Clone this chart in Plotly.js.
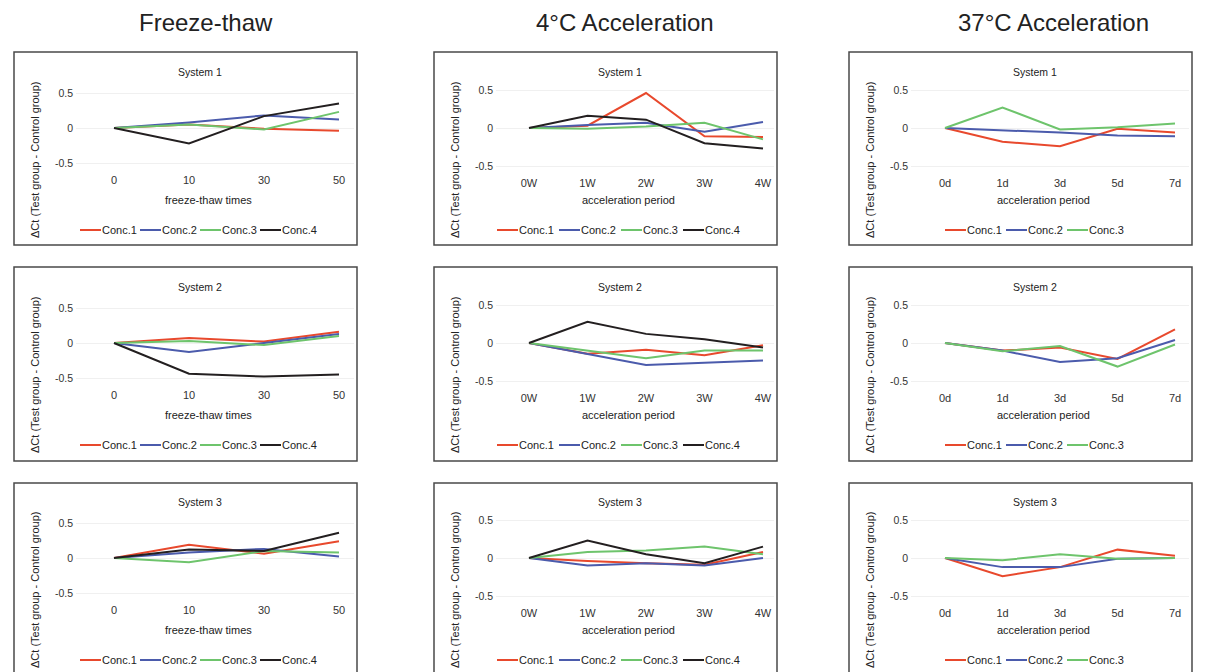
<!DOCTYPE html>
<html>
<head>
<meta charset="utf-8">
<script src="https://cdn.plot.ly/plotly-3.0.1.min.js"></script>
<style>html,body{margin:0;padding:0;background:#fff;}#chart{width:1206px;height:672px;}</style>
</head>
<body>
<div id="chart"></div>
<script>
// ---------- text / categories ----------
const columnTitles = ['Freeze-thaw', '4°C Acceleration', '37°C Acceleration'];
const systemNames = ['System 1', 'System 2', 'System 3'];
const xTitles = ['freeze-thaw times', 'acceleration period', 'acceleration period'];
const yTitle = 'ΔCt (Test group - Control group)';
const freezeThawLabels = ['0', '10', '30', '50'];
const accel4Labels = ['0W', '1W', '2W', '3W', '4W'];
const accel37Labels = ['0d', '1d', '3d', '5d', '7d'];
const seriesNames = ['Conc.1', 'Conc.2', 'Conc.3', 'Conc.4'];
const yTickVals = [-0.5, 0, 0.5];
const yTickText = ['-0.5', '0', '0.5'];

// ---------- Freeze-thaw ----------
const ft_sys1_conc1 = [0, 0.05, -0.01, -0.04];
const ft_sys1_conc2 = [0, 0.08, 0.18, 0.12];
const ft_sys1_conc3 = [0, 0.05, -0.02, 0.23];
const ft_sys1_conc4 = [0, -0.22, 0.17, 0.35];

const ft_sys2_conc1 = [0, 0.07, 0.02, 0.16];
const ft_sys2_conc2 = [0, -0.13, 0.0, 0.13];
const ft_sys2_conc3 = [0, 0.03, -0.03, 0.10];
const ft_sys2_conc4 = [0, -0.44, -0.48, -0.45];

const ft_sys3_conc1 = [0, 0.19, 0.06, 0.24];
const ft_sys3_conc2 = [0, 0.08, 0.13, 0.02];
const ft_sys3_conc3 = [0, -0.06, 0.10, 0.08];
const ft_sys3_conc4 = [0, 0.12, 0.10, 0.36];

// ---------- 4°C Acceleration ----------
const a4_sys1_conc1 = [0, 0.03, 0.46, -0.11, -0.12];
const a4_sys1_conc2 = [0, 0.04, 0.07, -0.05, 0.08];
const a4_sys1_conc3 = [0, -0.01, 0.02, 0.07, -0.15];
const a4_sys1_conc4 = [0, 0.16, 0.11, -0.20, -0.27];

const a4_sys2_conc1 = [0, -0.14, -0.09, -0.16, -0.03];
const a4_sys2_conc2 = [0, -0.15, -0.29, -0.26, -0.23];
const a4_sys2_conc3 = [0, -0.10, -0.20, -0.10, -0.10];
const a4_sys2_conc4 = [0, 0.28, 0.12, 0.05, -0.06];

const a4_sys3_conc1 = [0, -0.04, -0.07, -0.09, 0.08];
const a4_sys3_conc2 = [0, -0.10, -0.07, -0.10, 0.0];
const a4_sys3_conc3 = [0, 0.08, 0.10, 0.15, 0.05];
const a4_sys3_conc4 = [0, 0.23, 0.05, -0.07, 0.15];

// ---------- 37°C Acceleration ----------
const a37_sys1_conc1 = [0, -0.18, -0.24, -0.01, -0.06];
const a37_sys1_conc2 = [0, -0.03, -0.06, -0.10, -0.11];
const a37_sys1_conc3 = [0, 0.27, -0.02, 0.01, 0.06];

const a37_sys2_conc1 = [0, -0.10, -0.06, -0.21, 0.18];
const a37_sys2_conc2 = [0, -0.10, -0.25, -0.20, 0.04];
const a37_sys2_conc3 = [0, -0.11, -0.04, -0.31, -0.02];

const a37_sys3_conc1 = [0, -0.24, -0.12, 0.11, 0.03];
const a37_sys3_conc2 = [0, -0.12, -0.12, -0.01, 0.0];
const a37_sys3_conc3 = [0, -0.03, 0.05, -0.01, 0.0];

// ---------- panel table ----------
const panels = [
  {r:0, c:0, labels:freezeThawLabels, series:[ft_sys1_conc1, ft_sys1_conc2, ft_sys1_conc3, ft_sys1_conc4]},
  {r:0, c:1, labels:accel4Labels, series:[a4_sys1_conc1, a4_sys1_conc2, a4_sys1_conc3, a4_sys1_conc4]},
  {r:0, c:2, labels:accel37Labels, series:[a37_sys1_conc1, a37_sys1_conc2, a37_sys1_conc3]},
  {r:1, c:0, labels:freezeThawLabels, series:[ft_sys2_conc1, ft_sys2_conc2, ft_sys2_conc3, ft_sys2_conc4]},
  {r:1, c:1, labels:accel4Labels, series:[a4_sys2_conc1, a4_sys2_conc2, a4_sys2_conc3, a4_sys2_conc4]},
  {r:1, c:2, labels:accel37Labels, series:[a37_sys2_conc1, a37_sys2_conc2, a37_sys2_conc3]},
  {r:2, c:0, labels:freezeThawLabels, series:[ft_sys3_conc1, ft_sys3_conc2, ft_sys3_conc3, ft_sys3_conc4]},
  {r:2, c:1, labels:accel4Labels, series:[a4_sys3_conc1, a4_sys3_conc2, a4_sys3_conc3, a4_sys3_conc4]},
  {r:2, c:2, labels:accel37Labels, series:[a37_sys3_conc1, a37_sys3_conc2, a37_sys3_conc3]}
];

// ---------- geometry & style ----------
const W = 1206, H = 672;
const colLeft = [14, 434, 849];
const colRight = [357, 777, 1192];
const rowTop = [52, 267, 483];
const rowBottom = [245, 461, 680];
const rowZero = [128, 343, 558];
const colScale = [70, 76, 76];
const colFirst = [100, 95, 96];
const colStep = [75, 58.5, 57.5];
const colTitleX = [206, 625, 1053];
const legStart = [66, 63, 96];
const legStep = [60, 62, 61];
const colors = ['#E8492D', '#4B5BAC', '#6EC46C', '#231F20'];
const FONT = 'Liberation Sans, Arial, sans-serif';
const yRange = [-0.58, 0.62];

const px = v => v / W;
const py = v => 1 - v / H;

const traces = [];
const layout = {
  width: W, height: H,
  margin: {l: 0, r: 0, t: 0, b: 0},
  paper_bgcolor: '#ffffff',
  plot_bgcolor: 'rgba(0,0,0,0)',
  showlegend: false,
  font: {family: FONT, size: 11, color: '#333333'},
  shapes: [],
  annotations: []
};

panels.forEach((p, idx) => {
  const n = idx + 1;
  const xa = 'xaxis' + (n === 1 ? '' : n);
  const ya = 'yaxis' + (n === 1 ? '' : n);
  const xr = 'x' + (n === 1 ? '' : n);
  const yr = 'y' + (n === 1 ? '' : n);
  const L = colLeft[p.c], Z = rowZero[p.r], S = colScale[p.c];
  const dL = L + 62, dR = L + 340;
  const first = L + colFirst[p.c], step = colStep[p.c];
  const idxs = p.labels.map((_, i) => i);

  layout[xa] = {
    domain: [px(dL), px(dR)],
    range: [(dL - first) / step, (dR - first) / step],
    anchor: yr,
    tickvals: idxs, ticktext: p.labels,
    showgrid: false, zeroline: false, showline: false, ticks: '',
    tickfont: {family: FONT, size: 11, color: '#333333'},
    ticklabelstandoff: 3,
    fixedrange: true
  };
  const top = Z - yRange[1] * S, bot = Z - yRange[0] * S;
  layout[ya] = {
    domain: [py(bot), py(top)],
    range: yRange,
    anchor: xr,
    tickvals: yTickVals, ticktext: yTickText,
    showgrid: true, gridcolor: '#f0f0f0', gridwidth: 1,
    zeroline: false, showline: false, ticks: '',
    tickfont: {family: FONT, size: 10.5, color: '#333333'},
    ticklabelstandoff: 2,
    fixedrange: true
  };

  p.series.forEach((vals, s) => {
    traces.push({
      type: 'scatter', mode: 'lines',
      x: idxs, y: vals,
      name: seriesNames[s],
      xaxis: xr, yaxis: yr,
      line: {color: colors[s], width: 2},
      hoverinfo: 'skip'
    });
    // legend sample
    const lx = L + legStart[p.c] + s * legStep[p.c];
    const ly = Z + 102;
    layout.shapes.push({
      type: 'line', xref: 'paper', yref: 'paper',
      x0: px(lx), x1: px(lx + 21), y0: py(ly), y1: py(ly),
      line: {color: colors[s], width: 2}
    });
    layout.annotations.push({
      xref: 'paper', yref: 'paper', x: px(lx + 20), y: py(ly),
      xanchor: 'left', yanchor: 'middle', showarrow: false,
      text: seriesNames[s], font: {family: FONT, size: 11, color: '#222222'}
    });
  });

  // panel frame
  layout.shapes.push({
    type: 'rect', xref: 'paper', yref: 'paper',
    x0: px(L), x1: px(colRight[p.c]), y0: py(rowBottom[p.r]), y1: py(rowTop[p.r]),
    line: {color: '#4a4a4a', width: 1.5}, fillcolor: 'rgba(0,0,0,0)', layer: 'below'
  });
  // subplot title
  layout.annotations.push({
    xref: 'paper', yref: 'paper', x: px(L + 186), y: py(Z - 56),
    xanchor: 'center', yanchor: 'middle', showarrow: false,
    text: systemNames[p.r], font: {family: FONT, size: 10.5, color: '#222222'}
  });
  // x title
  layout.annotations.push({
    xref: 'paper', yref: 'paper', x: px(L + 194), y: py(Z + 72),
    xanchor: 'center', yanchor: 'middle', showarrow: false,
    text: xTitles[p.c], font: {family: FONT, size: 11, color: '#222222'}
  });
  // y title
  layout.annotations.push({
    xref: 'paper', yref: 'paper', x: px(L + 21), y: py(Z + 32),
    xanchor: 'center', yanchor: 'middle', showarrow: false, textangle: -90,
    text: yTitle, font: {family: FONT, size: 11, color: '#222222'}
  });
});

columnTitles.forEach((t, c) => {
  layout.annotations.push({
    xref: 'paper', yref: 'paper', x: px(colTitleX[c]), y: py(23),
    xanchor: 'center', yanchor: 'middle', showarrow: false,
    text: t, font: {family: FONT, size: 24, color: '#222222'}
  });
});

Plotly.newPlot('chart', traces, layout, {staticPlot: true, displayModeBar: false});
</script>
</body>
</html>
